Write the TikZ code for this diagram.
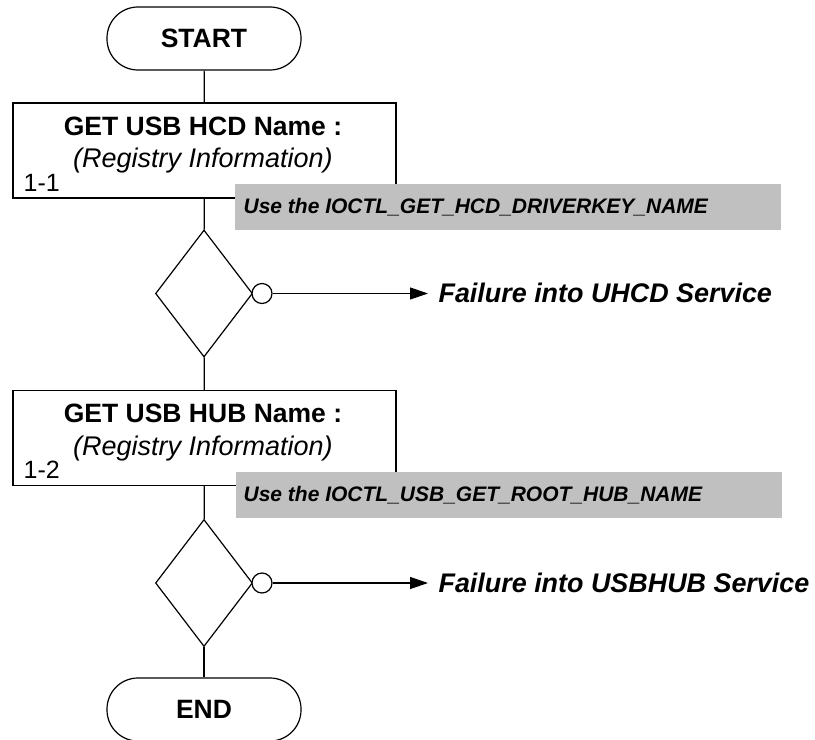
\documentclass[tikz,border=0pt]{standalone}
\usepackage{fontspec}
\setmainfont{Liberation Sans}
\usetikzlibrary{arrows.meta,shapes.geometric}
\definecolor{notegray}{HTML}{C0C0C0}
\begin{document}
\begin{tikzpicture}[x=1bp,y=-1bp,line width=1.2bp,
  term/.style={draw,rounded corners=31bp,minimum width=194bp,minimum height=63bp,
    inner sep=0pt,font=\fontsize{26.5bp}{30bp}\selectfont\bfseries},
  procbox/.style={draw,minimum width=383bp,minimum height=95bp,inner sep=0pt},
  titletext/.style={inner sep=0pt,font=\fontsize{26.5bp}{30bp}\selectfont\bfseries},
  subtext/.style={inner sep=0pt,font=\fontsize{27bp}{31bp}\selectfont\itshape},
  numtext/.style={inner sep=0pt,anchor=west,font=\fontsize{25bp}{29bp}\selectfont},
  note/.style={fill=notegray,minimum width=546bp,minimum height=46bp,inner sep=0pt},
  notetext/.style={inner sep=0pt,anchor=west,font=\fontsize{21bp}{25bp}\selectfont\bfseries\itshape},
  decision/.style={draw,diamond,minimum width=97bp,minimum height=127bp,inner sep=0pt},
  port/.style={draw,circle,minimum size=20bp,inner sep=0pt,fill=white},
  failtext/.style={inner sep=0pt,anchor=west,font=\fontsize{26.9bp}{31bp}\selectfont\bfseries\itshape},
  flow/.style={-{Triangle[length=18bp,width=12bp]}}
]
\useasboundingbox (0,0) rectangle (815,740);

% terminal start
\node[term] (start) at (204,38.5) {START};

% step 1-1
\node[procbox] (box1) at (204.5,150.5) {};
\node[titletext] (t1) at (203,126.5) {GET USB HCD Name :};
\node[subtext] (s1) at (203,161) {(Registry Information)};
\node[numtext] (n1) at (23,182.5) {1-1};
\node[note] (g1) at (508,207) {};
\node[notetext] (g1t) at (243,207) {Use the IOCTL\_GET\_HCD\_DRIVERKEY\_NAME};

% check 1
\node[decision] (d1) at (204,293.5) {};
\node[port] (c1) at (262,293.5) {};
\coordinate (f1) at (428,293.5);
\node[failtext] (f1t) at (438,293) {Failure into UHCD Service};

% step 1-2
\node[procbox] (box2) at (204.5,438) {};
\node[titletext] (t2) at (203,413.5) {GET USB HUB Name :};
\node[subtext] (s2) at (203,448.5) {(Registry Information)};
\node[numtext] (n2) at (23,470) {1-2};
\node[note] (g2) at (508.5,495) {};
\node[notetext] (g2t) at (243,495) {Use the IOCTL\_USB\_GET\_ROOT\_HUB\_NAME};

% check 2
\node[decision] (d2) at (204,583) {};
\node[port] (c2) at (262,583) {};
\coordinate (f2) at (428,583);
\node[failtext] (f2t) at (438,582.5) {Failure into USBHUB Service};

% terminal end
\node[term] (end) at (204,709.5) {END};

% connectors
\draw (start) -- (box1);
\draw (box1) -- (d1);
\draw (d1) -- (box2);
\draw (box2) -- (d2);
\draw (d2) -- (end);
\draw[flow] (c1) -- (f1);
\draw[flow] (c2) -- (f2);
\end{tikzpicture}
\end{document}
